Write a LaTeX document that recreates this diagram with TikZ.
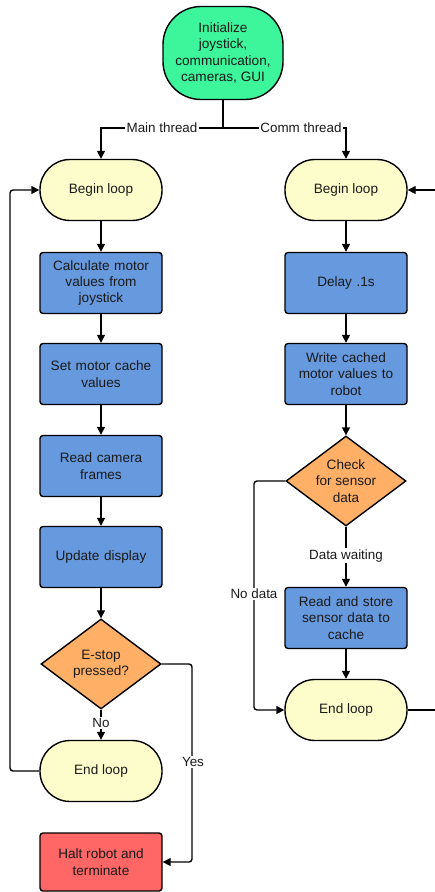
\documentclass[tikz,border=0pt]{standalone}
\usepackage{fontspec}
\setmainfont{Liberation Sans}
\usetikzlibrary{shapes.geometric,arrows.meta}
\definecolor{cgreen}{HTML}{3DF59A}
\definecolor{cyellow}{HTML}{FDFDCB}
\definecolor{cblue}{HTML}{6699DD}
\definecolor{corange}{HTML}{FFB066}
\definecolor{cred}{HTML}{FF6666}
\definecolor{ctext}{HTML}{1A1A1A}
\begin{document}
\begin{tikzpicture}[x=1pt,y=-1pt,
  base/.style={draw=black,line width=1.4pt,text=ctext,align=center,inner sep=0pt,
    font=\fontsize{13.6}{16.3}\selectfont},
  pill/.style={base,fill=cyellow,rounded corners=30pt,minimum width=122pt,minimum height=61pt},
  procbox/.style={base,fill=cblue,rounded corners=3pt,minimum width=122pt,minimum height=61pt,text width=116pt},
  decision/.style={base,diamond,fill=corange,minimum width=120pt,minimum height=90pt,
    label={[align=center,text=ctext,font=\fontsize{13.6}{16.3}\selectfont]center:#1}},
  conn/.style={line width=1.4pt,-{Triangle[length=8pt,width=8pt]}},
  plain/.style={line width=1.4pt},
  lbl/.style={fill=white,inner sep=1.5pt,text=ctext,font=\fontsize{13.4}{16}\selectfont}
]
\useasboundingbox (0,0) rectangle (435,892);
% nodes
\node[base,fill=cgreen,rounded corners=38pt,minimum width=120pt,minimum height=93pt] (init) at (223,53)
  {Initialize\\joystick,\\communication,\\cameras, GUI};
\node[pill] (beginL) at (101,190) {Begin loop};
\node[procbox] (calc) at (101,283) {Calculate motor\\values from\\joystick};
\node[procbox] (setc) at (101,374) {Set motor cache\\values};
\node[procbox] (readc) at (101,466) {Read camera\\frames};
\node[procbox] (upd) at (101,557) {Update display};
\node[decision={E-stop\\pressed?}] (estop) at (101,664) {};
\node[pill] (endL) at (101,771) {End loop};
\node[base,fill=cred,rounded corners=3pt,minimum width=122pt,minimum height=58pt] (halt) at (101,862)
  {Halt robot and\\terminate};

\node[pill] (beginR) at (346,190) {Begin loop};
\node[procbox] (delay) at (346,283) {Delay .1s};
\node[procbox] (write) at (346,374) {Write cached\\motor values to\\robot};
\node[decision={Check\\for sensor\\data}] (check) at (346,481) {};
\node[procbox] (store) at (346,618) {Read and store\\sensor data to\\cache};
\node[pill] (endR) at (346,710) {End loop};

\coordinate (split) at (223,128);
\coordinate (offR) at (450,710);
\coordinate (offRt) at (450,190);

% connectors
\draw[plain] (init.south) -- (split);
\draw[conn] (split) -- (split -| beginL) -- (beginL.north);
\draw[conn] (split) -- (split -| beginR) -- (beginR.north);
\node[lbl] (mainlbl) at (162,128) {Main thread};
\node[lbl] (commlbl) at (301,128) {Comm thread};

\draw[conn] (beginL) -- (calc);
\draw[conn] (calc) -- (setc);
\draw[conn] (setc) -- (readc);
\draw[conn] (readc) -- (upd);
\draw[conn] (upd) -- (estop.north);
\draw[conn] (estop.south) -- node[lbl,pos=0.45] (nolbl) {No} (endL.north);
\draw[conn,rounded corners=3pt] (endL.west) -- (10,771) -- (10,190) -- (beginL.west);
\draw[conn,rounded corners=3pt] (estop.east) -- (192,664) -- (192,862) -- (halt.east);
\node[lbl] (yeslbl) at (193,762) {Yes};

\draw[conn] (beginR) -- (delay);
\draw[conn] (delay) -- (write);
\draw[conn] (write) -- (check.north);
\draw[conn] (check.south) -- node[lbl,pos=0.48] (dwlbl) {Data waiting} (store.north);
\draw[conn] (store) -- (endR);
\draw[conn,rounded corners=3pt] (check.west) -- (254,481) -- (254,710) -- (endR.west);
\node[lbl] (ndlbl) at (254,594) {No data};
\draw[conn] (endR.east) -- (offR) -- (offRt) -- (beginR.east);
\end{tikzpicture}
\end{document}
